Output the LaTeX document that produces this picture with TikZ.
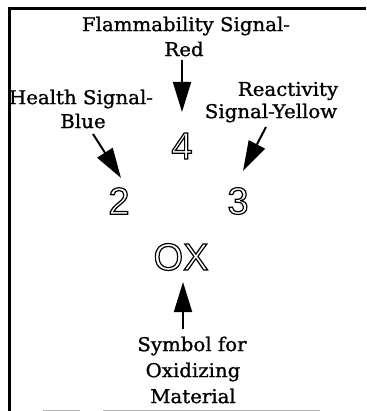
\documentclass[tikz,border=0pt]{standalone}
\usepackage{fontspec}
\setmainfont{DejaVu Serif}[FakeStretch=1.04,FakeBold=1.1]
\newfontfamily\digitfont{Liberation Sans}
\usetikzlibrary{arrows.meta}
% hollow (stroked, unfilled) glyphs
\newcommand{\hollowtext}[1]{\special{pdf:literal direct 1 Tr 1.2 w}#1\special{pdf:literal direct 0 Tr}}
\tikzset{
  label/.style={font=\fontsize{19}{21}\selectfont, inner sep=0pt, align=center},
  sign/.style={font=\digitfont\fontsize{38}{38}\selectfont, inner sep=0pt},
  pointer/.style={line width=2pt, -{Triangle[length=30pt,width=18pt]}},
  frame/.style={line width=3pt},
}
\begin{document}
\begin{tikzpicture}[x=1pt,y=-1pt]
\useasboundingbox (0,0) rectangle (366,411);
% frame
\draw[frame] (366,9) -- (9,9) -- (9,411);
\draw[gray!60, line width=1pt] (43,410) -- (80,410) (103,410) -- (320,410);

% labels
\node[label] (flam1) at (186,26) {Flammability Signal-};
\node[label] (flam2) at (184,49) {Red};
\node[label] (hea1) at (81,99) {Health Signal-};
\node[label] (hea2) at (83,121) {Blue};
\node[label] (rea1) at (288,91) {Reactivity};
\node[label] (rea2) at (271,113) {Signal-Yellow};
\node[label] (oxi1) at (192,346) {Symbol for};
\node[label] (oxi2) at (193,372) {Oxidizing};
\node[label] (oxi3) at (193,396) {Material};

% hollow hazard ratings
\node[sign] (four) at (182,146) {\hollowtext{4}};
\node[sign] (two) at (119,201) {\hollowtext{2}};
\node[sign] (three) at (238,201) {\hollowtext{3}};
\node[sign] (ox) at (181,257) {\hollowtext{OX}};

% arrow end points
\coordinate (fs) at (182,60);
\coordinate (ft) at (182,112);
\coordinate (hs) at (93,134);
\coordinate (ht) at (121,178);
\coordinate (rs) at (266,127);
\coordinate (rt) at (243,171);
\coordinate (os) at (183,329);
\coordinate (ot) at (183,282);
\draw[pointer] (fs) -- (ft);
\draw[pointer] (hs) -- (ht);
\draw[pointer] (rs) -- (rt);
\draw[pointer] (os) -- (ot);
\end{tikzpicture}
\end{document}
